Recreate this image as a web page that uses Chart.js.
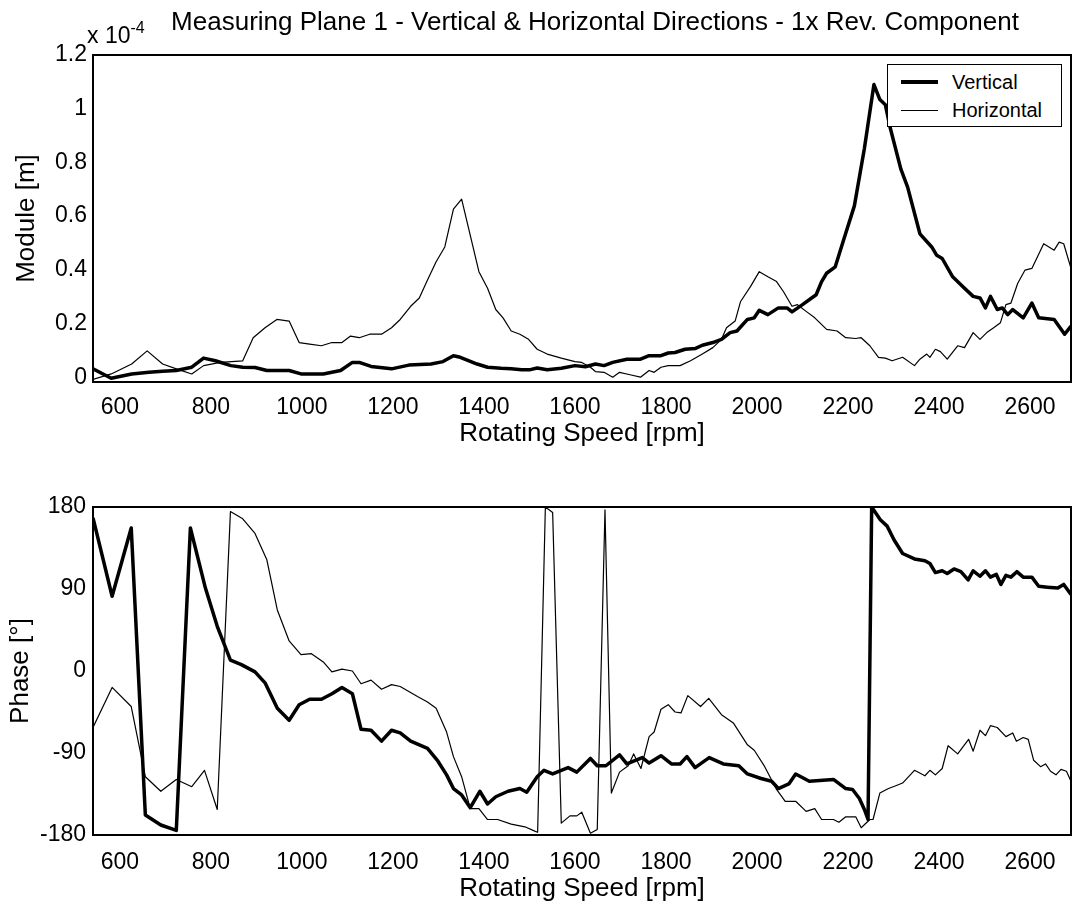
<!DOCTYPE html>
<html>
<head>
<meta charset="utf-8">
<script src="https://cdn.jsdelivr.net/npm/chart.js@4.4.0/dist/chart.umd.min.js"></script>
<style>
  html, body { margin: 0; padding: 0; background: #fff; }
  body { width: 1073px; height: 906px; position: relative; overflow: hidden;
         font-family: "Liberation Sans", Arial, sans-serif; color: #000; }
  .plot { position: absolute; left: 0; width: 1073px; height: 453px; }
  #title { position: absolute; top: 6px; left: 95px; width: 1000px; text-align: center;
           font-size: 26px; line-height: 30px; white-space: nowrap; }
  #expo { position: absolute; left: 87px; top: 22px; font-size: 23px; line-height: 26px; white-space: nowrap; }
  #expo span { position: relative; top: -10px; font-size: 16px; }
  #legend { position: absolute; left: 887px; top: 64px; width: 173px; height: 61px;
            border: 1.5px solid #000; background: #fff; font-size: 20px; }
  #legend .row { position: absolute; left: 0; height: 24px; line-height: 24px; }
  #legend .swatch { position: absolute; left: 13px; width: 37px; background: #000; }
  #legend .lbl { position: absolute; left: 64px; top: 0; white-space: nowrap; }
</style>
</head>
<body>
<div class="plot" style="top:0"><canvas id="moduleChart" width="1073" height="453"></canvas></div>
<div class="plot" style="top:453px"><canvas id="phaseChart" width="1073" height="453"></canvas></div>
<div id="title">Measuring Plane 1 - Vertical &amp; Horizontal Directions - 1x Rev. Component</div>
<div id="expo">x 10<span>-4</span></div>
<div id="legend">
  <div class="row" style="top:5px"><div class="swatch" style="top:10px;height:4px"></div><div class="lbl">Vertical</div></div>
  <div class="row" style="top:33px"><div class="swatch" style="top:12px;height:1px"></div><div class="lbl">Horizontal</div></div>
</div>
<script>
// axis ticks
const rpmTicks = [600, 800, 1000, 1200, 1400, 1600, 1800, 2000, 2200, 2400, 2600];
const moduleTicks = [0, 0.2, 0.4, 0.6, 0.8, 1, 1.2];
const moduleTickLabels = ['0', '0.2', '0.4', '0.6', '0.8', '1', '1.2'];
const phaseTicks = [-180, -90, 0, 90, 180];

// module, [rpm, value x 1e-4 m]
const vertModule = [
  [541, 0.031], [581, -0.004], [626, 0.012], [664, 0.018], [694, 0.022], [724, 0.025], [758, 0.037],
  [784, 0.071], [810, 0.061], [844, 0.043], [870, 0.037], [897, 0.036], [923, 0.025], [972, 0.025],
  [998, 0.012], [1047, 0.012], [1085, 0.025], [1111, 0.055], [1126, 0.055], [1152, 0.040], [1197, 0.031],
  [1235, 0.045], [1284, 0.049], [1310, 0.058], [1333, 0.080], [1348, 0.074], [1385, 0.049], [1408, 0.037],
  [1438, 0.033], [1460, 0.031], [1483, 0.028], [1502, 0.028], [1517, 0.034], [1539, 0.028], [1570, 0.033],
  [1600, 0.043], [1623, 0.039], [1645, 0.049], [1664, 0.043], [1683, 0.055], [1714, 0.067], [1744, 0.067],
  [1763, 0.080], [1789, 0.080], [1805, 0.090], [1820, 0.092], [1842, 0.104], [1865, 0.107], [1880, 0.119],
  [1903, 0.129], [1922, 0.141], [1941, 0.166], [1956, 0.172], [1979, 0.215], [1994, 0.221], [2005, 0.249],
  [2024, 0.233], [2047, 0.258], [2066, 0.258], [2077, 0.243], [2100, 0.270], [2130, 0.307], [2142, 0.356],
  [2153, 0.387], [2172, 0.411], [2191, 0.515], [2214, 0.638], [2236, 0.852], [2257, 1.090], [2270, 1.034],
  [2282, 1.015], [2293, 0.927], [2316, 0.776], [2331, 0.708], [2358, 0.534], [2384, 0.485], [2395, 0.454],
  [2407, 0.442], [2430, 0.374], [2452, 0.338], [2475, 0.301], [2490, 0.295], [2502, 0.258], [2513, 0.301],
  [2528, 0.252], [2539, 0.258], [2551, 0.233], [2562, 0.252], [2585, 0.221], [2604, 0.276], [2619, 0.221],
  [2653, 0.215], [2676, 0.160], [2690, 0.190]
];
const horzModule = [
  [541, -0.008], [581, 0.012], [626, 0.049], [660, 0.098], [694, 0.049], [724, 0.031], [758, 0.012],
  [784, 0.043], [821, 0.055], [870, 0.061], [893, 0.147], [919, 0.184], [945, 0.215], [972, 0.209],
  [994, 0.129], [1017, 0.123], [1043, 0.117], [1066, 0.129], [1088, 0.129], [1107, 0.153], [1126, 0.147],
  [1149, 0.160], [1175, 0.160], [1197, 0.184], [1216, 0.215], [1239, 0.264], [1258, 0.295], [1276, 0.362],
  [1295, 0.430], [1314, 0.485], [1333, 0.626], [1351, 0.663], [1370, 0.528], [1389, 0.393], [1408, 0.331],
  [1426, 0.252], [1442, 0.221], [1460, 0.172], [1479, 0.160], [1498, 0.141], [1517, 0.104], [1539, 0.086],
  [1570, 0.071], [1600, 0.058], [1615, 0.055], [1634, 0.037], [1645, 0.021], [1664, 0.018], [1683, 0.000],
  [1698, 0.018], [1721, 0.009], [1744, 0.000], [1763, 0.025], [1774, 0.018], [1789, 0.037], [1805, 0.043],
  [1831, 0.043], [1854, 0.061], [1880, 0.086], [1903, 0.110], [1922, 0.141], [1933, 0.184], [1952, 0.209],
  [1964, 0.282], [1986, 0.338], [2005, 0.393], [2024, 0.374], [2043, 0.356], [2058, 0.319], [2077, 0.264],
  [2089, 0.270], [2108, 0.245], [2127, 0.221], [2153, 0.178], [2176, 0.172], [2195, 0.147], [2217, 0.144],
  [2229, 0.147], [2248, 0.117], [2267, 0.074], [2282, 0.071], [2297, 0.061], [2320, 0.074], [2346, 0.043],
  [2358, 0.067], [2373, 0.086], [2380, 0.074], [2392, 0.104], [2403, 0.095], [2418, 0.067], [2441, 0.117],
  [2456, 0.110], [2475, 0.166], [2490, 0.141], [2505, 0.166], [2520, 0.184], [2535, 0.203], [2547, 0.270],
  [2558, 0.276], [2573, 0.350], [2589, 0.399], [2604, 0.405], [2630, 0.497], [2653, 0.473], [2664, 0.503],
  [2674, 0.497], [2690, 0.405]
];

// phase, [rpm, degrees]
const vertPhase = [
  [541, 168], [583, 82], [625, 157], [656, -158], [690, -169], [724, -175], [755, 157], [788, 91],
  [814, 49], [843, 12], [867, 7], [897, -1], [919, -13], [946, -41], [972, -54], [994, -37], [1017, -31],
  [1043, -31], [1066, -25], [1088, -18], [1111, -25], [1130, -64], [1152, -65], [1175, -77], [1197, -65],
  [1216, -68], [1239, -77], [1276, -85], [1299, -99], [1318, -114], [1333, -129], [1351, -136], [1370, -150],
  [1391, -132], [1408, -146], [1426, -138], [1453, -132], [1479, -129], [1494, -133], [1517, -116],
  [1532, -109], [1551, -113], [1585, -106], [1604, -111], [1634, -96], [1649, -104], [1668, -104],
  [1698, -92], [1714, -102], [1748, -95], [1763, -101], [1789, -93], [1812, -102], [1831, -102], [1846, -94],
  [1864, -106], [1895, -95], [1926, -102], [1960, -104], [1979, -113], [2009, -118], [2032, -121],
  [2047, -129], [2070, -124], [2085, -113], [2115, -121], [2168, -119], [2195, -129], [2210, -130],
  [2225, -140], [2236, -152], [2244, -163], [2252, 180], [2271, 166], [2286, 159], [2301, 144], [2320, 129],
  [2346, 123], [2369, 121], [2380, 118], [2392, 108], [2407, 110], [2418, 107], [2433, 112], [2448, 109],
  [2464, 100], [2475, 110], [2490, 104], [2502, 110], [2513, 103], [2526, 106], [2536, 95], [2547, 105],
  [2558, 103], [2571, 109], [2585, 103], [2604, 103], [2619, 93], [2638, 92], [2661, 91], [2674, 95],
  [2690, 84]
];
const horzPhase = [
  [541, -62], [583, -18], [625, -39], [656, -116], [690, -132], [724, -119], [758, -127], [786, -109],
  [814, -152], [843, 175], [870, 167], [897, 151], [923, 122], [946, 67], [972, 33], [998, 18], [1021, 19],
  [1047, 10], [1066, -1], [1088, 2], [1111, 0], [1130, -14], [1152, -10], [1175, -20], [1197, -15],
  [1216, -17], [1254, -28], [1276, -34], [1295, -41], [1318, -67], [1333, -94], [1351, -116], [1370, -151],
  [1389, -151], [1408, -163], [1430, -163], [1460, -168], [1490, -171], [1513, -176], [1518, -177],
  [1535, 180], [1551, 174], [1570, -167], [1589, -159], [1604, -159], [1615, -155], [1634, -178],
  [1649, -174], [1666, 177], [1680, -134], [1698, -111], [1717, -104], [1729, -91], [1745, -107],
  [1763, -72], [1774, -67], [1789, -42], [1805, -37], [1820, -45], [1833, -46], [1848, -27], [1876, -39],
  [1894, -30], [1922, -48], [1948, -57], [1979, -81], [1994, -87], [2017, -105], [2043, -130], [2062, -143],
  [2085, -143], [2108, -154], [2127, -151], [2142, -163], [2168, -163], [2180, -166], [2195, -160],
  [2217, -160], [2229, -172], [2248, -163], [2255, -163], [2270, -134], [2289, -129], [2305, -126],
  [2320, -123], [2346, -109], [2369, -115], [2380, -109], [2392, -114], [2407, -107], [2420, -82],
  [2441, -91], [2465, -75], [2475, -88], [2490, -65], [2502, -71], [2513, -60], [2528, -62], [2547, -72],
  [2562, -68], [2570, -77], [2585, -73], [2596, -75], [2608, -98], [2623, -105], [2634, -102], [2645, -110],
  [2657, -114], [2668, -108], [2680, -110], [2690, -121]
];

Chart.defaults.font.family = '"Liberation Sans", Arial, sans-serif';
Chart.defaults.color = '#000';

// box around the plotting area
const framePlugin = {
  id: 'frame',
  afterDraw(chart) {
    const { ctx, chartArea: a } = chart;
    ctx.save();
    ctx.strokeStyle = '#000';
    ctx.lineWidth = 2;
    ctx.strokeRect(a.left, a.top, a.right - a.left, a.bottom - a.top);
    ctx.restore();
  }
};

const toXY = pairs => pairs.map(p => ({ x: p[0], y: p[1] }));

function makeChart(id, opts) {
  return new Chart(document.getElementById(id), {
    type: 'line',
    data: {
      datasets: [
        { label: 'Vertical', data: toXY(opts.vert), borderColor: '#000', borderWidth: 3.5,
          pointRadius: 0, tension: 0, borderJoinStyle: 'round' },
        { label: 'Horizontal', data: toXY(opts.horz), borderColor: '#000', borderWidth: 1.2,
          pointRadius: 0, tension: 0, borderJoinStyle: 'round' }
      ]
    },
    options: {
      responsive: false,
      animation: false,
      layout: { padding: { top: opts.top, right: 2, left: 0, bottom: 0 } },
      plugins: { legend: { display: false }, tooltip: { enabled: false } },
      scales: {
        x: {
          type: 'linear', min: 541, max: 2690,
          afterFit(s) { s.height = 71; },
          afterBuildTicks(s) { s.ticks = rpmTicks.map(v => ({ value: v })); },
          grid: { display: false, drawTicks: false },
          border: { display: false },
          ticks: { font: { size: 23 }, padding: opts.xTickPad, maxRotation: 0, autoSkip: false,
                   callback: v => String(v) },
          title: { display: true, text: 'Rotating Speed [rpm]', font: { size: 26 },
                   padding: { top: 0, bottom: opts.xTitlePad } }
        },
        y: {
          min: opts.yMin, max: opts.yMax,
          afterFit(s) { s.width = 93; },
          afterBuildTicks(s) { s.ticks = opts.yTicks.map(v => ({ value: v })); },
          grid: { display: false, drawTicks: false },
          border: { display: false },
          ticks: { font: { size: 23 }, padding: opts.yTickPad, autoSkip: false, callback: opts.yLabel },
          title: { display: true, text: opts.yTitle, font: { size: 26 },
                   padding: { top: opts.yTitlePad, bottom: 0 } }
        }
      }
    },
    plugins: [framePlugin]
  });
}

makeChart('moduleChart', {
  vert: vertModule, horz: horzModule, top: 55,
  yMin: -0.018, yMax: 1.2, yTicks: moduleTicks,
  yLabel: (v, i) => moduleTickLabels[i],
  yTitle: 'Module [m]', yTitlePad: 11, yTickPad: 6, xTickPad: 12, xTitlePad: 4
});

makeChart('phaseChart', {
  vert: vertPhase, horz: horzPhase, top: 54,
  yMin: -180, yMax: 180, yTicks: phaseTicks,
  yLabel: v => String(v),
  yTitle: 'Phase [°]', yTitlePad: 5, yTickPad: 7, xTickPad: 14, xTitlePad: 2
});
</script>
</body>
</html>
